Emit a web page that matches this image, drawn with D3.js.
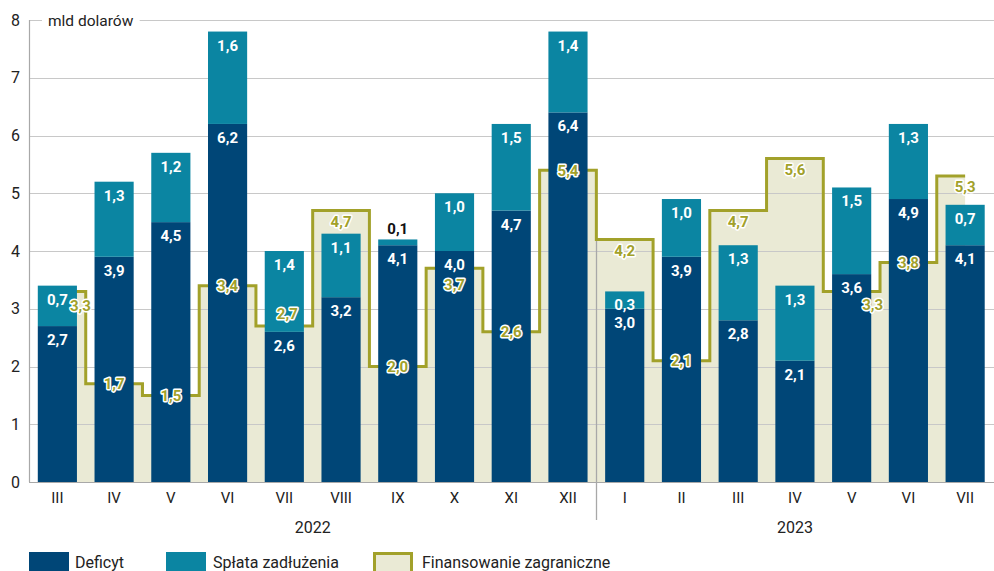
<!DOCTYPE html>
<html>
<head>
<meta charset="utf-8">
<script src="https://cdn.jsdelivr.net/npm/d3@7"></script>
<style>
  html, body { margin: 0; padding: 0; background: #fff; }
  svg { display: block; font-family: Roboto, "Noto Sans", sans-serif; }
</style>
</head>
<body>
<svg id="chart" width="994" height="571"></svg>
<script>
// Months (2022: III–XII, 2023: I–VII)
const months = ["III","IV","V","VI","VII","VIII","IX","X","XI","XII","I","II","III","IV","V","VI","VII"];
const years = [
  { label: "2022", from: 0, to: 9 },
  { label: "2023", from: 10, to: 16 }
];
// billions of dollars
const deficyt = [2.7, 3.9, 4.5, 6.2, 2.6, 3.2, 4.1, 4.0, 4.7, 6.4, 3.0, 3.9, 2.8, 2.1, 3.6, 4.9, 4.1];
const splata  = [0.7, 1.3, 1.2, 1.6, 1.4, 1.1, 0.1, 1.0, 1.5, 1.4, 0.3, 1.0, 1.3, 1.3, 1.5, 1.3, 0.7];
const finansowanie = [3.3, 1.7, 1.5, 3.4, 2.7, 4.7, 2.0, 3.7, 2.6, 5.4, 4.2, 2.1, 4.7, 5.6, 3.3, 3.8, 5.3];
const yTicks = [0, 1, 2, 3, 4, 5, 6, 7, 8];
const unitLabel = "mld dolarów";
const seriesNames = ["Deficyt", "Spłata zadłużenia", "Finansowanie zagraniczne"];

const C = {
  navy: "#004677",
  teal: "#0b85a2",
  beige: "#eaead5",
  olive: "#a2a12a",
  grid: "#c8c8c8",
  axis: "#a8a8a8",
  text: "#222"
};

const fmt = v => v.toFixed(1).replace(".", ",");

const svg = d3.select("#chart");
const idx = months.map((_, i) => i);

const x = d3.scaleBand().domain(idx).range([29, 993.5]).paddingInner(0.31).paddingOuter(0.155);
const y = d3.scaleLinear().domain([0, 8]).range([482, 20]);
const cx = i => x(i) + x.bandwidth() / 2;

// Foreign financing: stepped area behind the bars
const area = d3.area().curve(d3.curveStep)
  .x((d, i) => cx(i)).y0(y(0)).y1(d => y(d));
const line = d3.line().curve(d3.curveStep)
  .x((d, i) => cx(i)).y(d => y(d));

svg.append("path").datum(finansowanie).attr("d", area).attr("fill", C.beige);

// Gridlines
const gridG = svg.append("g");
gridG.selectAll("line").data(yTicks.filter(t => t > 0)).join("line")
  .attr("x1", 29).attr("x2", 994)
  .attr("y1", d => Math.round(y(d)) + 0.5).attr("y2", d => Math.round(y(d)) + 0.5)
  .attr("stroke", C.grid).attr("stroke-width", 1.2);

// Year divider
const divX = Math.round((x(9) + x.bandwidth() + x(10)) / 2) + 0.5;
svg.append("line").attr("x1", divX).attr("x2", divX)
  .attr("y1", y(finansowanie[10])).attr("y2", 520)
  .attr("stroke", C.axis).attr("stroke-width", 1.3);

svg.append("path").datum(finansowanie).attr("d", line)
  .attr("fill", "none").attr("stroke", C.olive).attr("stroke-width", 3)
  .attr("stroke-linejoin", "miter");

// Stacked bars
const stackData = idx.map(i => ({ i, d: deficyt[i], s: splata[i] }));
const stacked = d3.stack().keys(["d", "s"])(stackData);
const colors = { d: C.navy, s: C.teal };
svg.append("g").selectAll("g").data(stacked).join("g")
  .attr("fill", s => colors[s.key])
  .selectAll("rect").data(s => s).join("rect")
  .attr("x", (d, i) => x(i)).attr("width", x.bandwidth())
  .attr("y", d => y(d[1])).attr("height", d => y(d[0]) - y(d[1]));

// Axes
const axisG = svg.append("g");
axisG.append("line").attr("x1", 29.5).attr("x2", 29.5).attr("y1", y(8)).attr("y2", y(0))
  .attr("stroke", C.axis).attr("stroke-width", 1.2);
axisG.append("line").attr("x1", 29).attr("x2", 994).attr("y1", y(0) + 0.5).attr("y2", y(0) + 0.5)
  .attr("stroke", C.axis).attr("stroke-width", 1.2);

const yAxis = d3.axisLeft(y).tickValues(yTicks).tickSize(0).tickPadding(9).tickFormat(d3.format("d"));
const yg = svg.append("g").attr("transform", "translate(29,0)").call(yAxis);
yg.select(".domain").remove();
yg.selectAll("text").attr("font-size", 16).attr("fill", C.text).attr("font-family", "Roboto");

const xAxis = d3.axisBottom(x).tickSize(0).tickPadding(10).tickFormat(i => months[i]);
const xg = svg.append("g").attr("transform", `translate(0,${y(0)})`).call(xAxis);
xg.select(".domain").remove();
xg.selectAll("text").attr("font-size", 15).attr("fill", C.text).attr("font-family", "Roboto");

// Unit label over the top gridline, on a white patch
const unitBg = svg.append("rect").attr("fill", "#fff");
const unit = svg.append("text").attr("x", 48).attr("y", y(8) + 5.5)
  .attr("font-size", 15.5).attr("fill", C.text).text(unitLabel);
const ub = unit.node().getBBox();
unitBg.attr("x", ub.x - 6).attr("y", ub.y).attr("width", ub.width + 12).attr("height", ub.height);

// Year labels
svg.append("g").selectAll("text").data(years).join("text")
  .attr("x", d => (cx(d.from) + cx(d.to)) / 2).attr("y", 533)
  .attr("text-anchor", "middle").attr("font-size", 16).attr("fill", C.text)
  .text(d => d.label);

// Value labels in bars; a segment too thin for its label gets it above the bar
const thin = i => (y(deficyt[i]) - y(deficyt[i] + splata[i])) < 12;
const lab = svg.append("g").attr("font-weight", "bold").attr("font-size", 15).attr("text-anchor", "middle");
lab.selectAll("text.d").data(idx).join("text").attr("class", "d")
  .attr("x", i => cx(i)).attr("y", i => y(deficyt[i]) + 19)
  .attr("fill", "#fff").text(i => fmt(deficyt[i]));
lab.selectAll("text.s").data(idx).join("text").attr("class", "s")
  .attr("x", i => cx(i))
  .attr("y", i => {
    const top = y(deficyt[i] + splata[i]);
    return thin(i) ? top - 5 : top + 19;
  })
  .attr("fill", i => thin(i) ? "#111" : "#fff")
  .text(i => fmt(splata[i]));

// Foreign financing labels, with halo
const nudge = { 0: [23, 14], 4: [3, -13], 7: [0, 16], 14: [21, 13] };
lab.selectAll("text.f").data(idx).join("text").attr("class", "f")
  .attr("x", i => cx(i) + (nudge[i] ? nudge[i][0] : 0))
  .attr("y", i => {
    const above = finansowanie[i] > deficyt[i] + splata[i];
    const base = y(finansowanie[i]) + 5.5 + (above ? 11 : 0);
    return base + (nudge[i] ? nudge[i][1] : 0);
  })
  .attr("fill", C.olive).attr("stroke", "#fff").attr("stroke-width", 3)
  .attr("paint-order", "stroke").attr("stroke-linejoin", "round")
  .text(i => fmt(finansowanie[i]));

// Legend
const leg = svg.append("g").attr("transform", "translate(0,552)");
const legItems = [
  { x: 29, fill: C.navy, stroke: null, tx: 75 },
  { x: 166, fill: C.teal, stroke: null, tx: 213 },
  { x: 373, fill: C.beige, stroke: C.olive, tx: 422 }
];
legItems.forEach((it, k) => {
  leg.append("rect")
    .attr("x", it.stroke ? it.x + 1.5 : it.x).attr("y", it.stroke ? 1.5 : 0)
    .attr("width", it.stroke ? 37 : 40).attr("height", it.stroke ? 19 : 22)
    .attr("fill", it.fill).attr("stroke", it.stroke || "none").attr("stroke-width", 3);
  leg.append("text").attr("x", it.tx).attr("y", 15.5).attr("font-size", 16)
    .attr("fill", C.text).text(seriesNames[k]);
});
</script>
</body>
</html>
